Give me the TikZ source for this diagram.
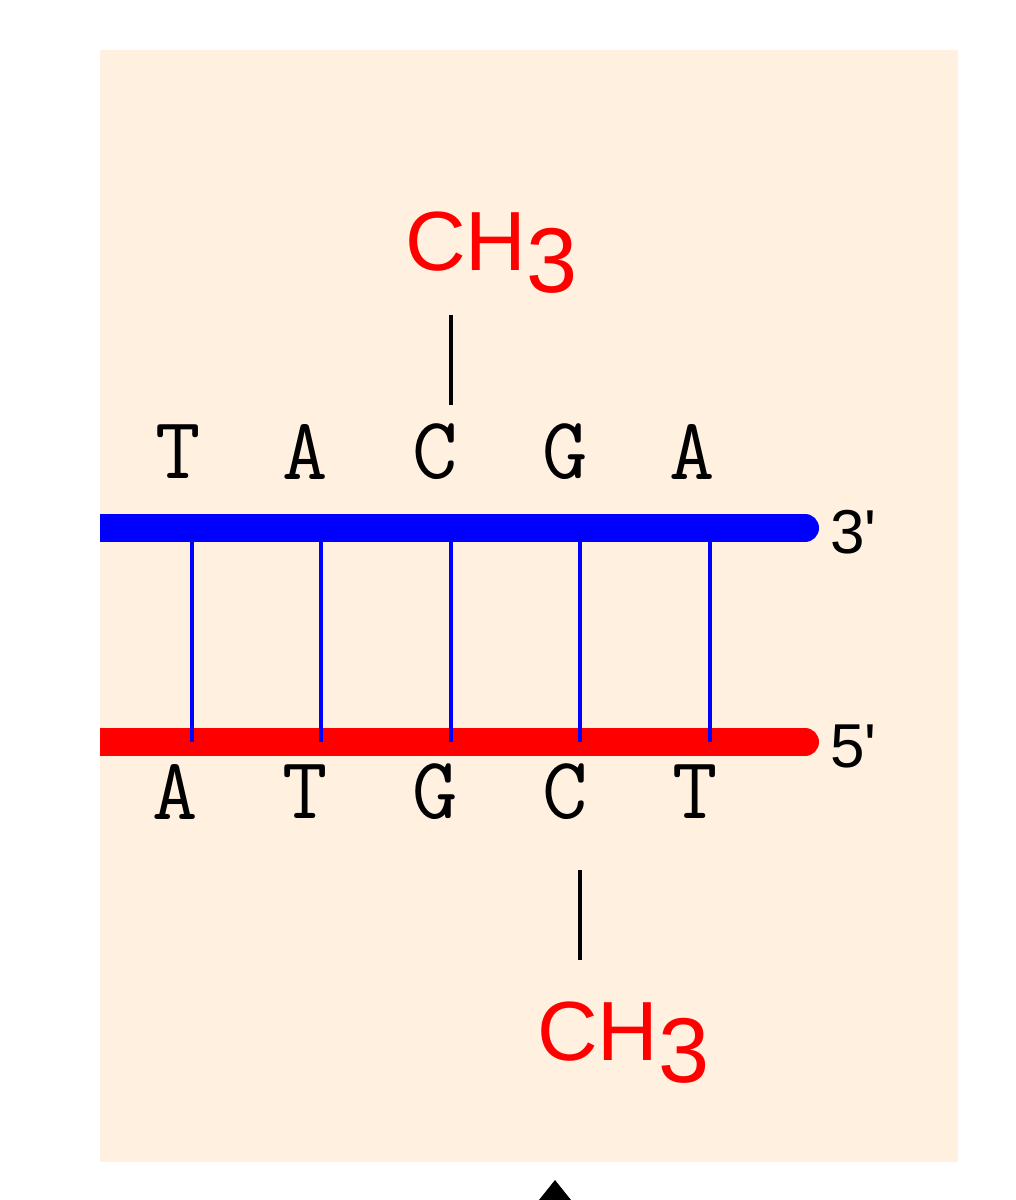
\documentclass[tikz,border=0pt]{standalone}
\usepackage{fontspec}
\setmainfont{Liberation Sans}
\newfontfamily\plainsans{Liberation Sans}
\newfontfamily\basefont{Latin Modern Mono}
\begin{document}
\begin{tikzpicture}[x=1pt,y=-1pt,
  base/.style={font=\basefont\fontsize{88}{88}\selectfont,inner sep=0},
  meth/.style={text=red,font=\fontsize{84}{84}\selectfont,inner sep=0},
  endl/.style={font=\plainsans\fontsize{62}{62}\selectfont,inner sep=0,anchor=west},
  strand/.style={line width=28pt,line cap=round},
  rung/.style={blue,line width=4.5pt}]
\useasboundingbox (0,0) rectangle (1016,1200);
\fill[white] (0,0) rectangle (1016,1200);
\fill[orange!12] (100,50) rectangle (958,1162);
\begin{scope}
\clip (100,0) rectangle (1016,1200);
\draw[strand,blue] (60,528) -- (805,528);
\draw[strand,red] (60,742) -- (805,742);
\end{scope}
\foreach \x in {192,321,451,580,710} \draw[rung] (\x,528) -- (\x,742);
\foreach \l/\x [count=\i] in {T/178,A/305,C/435,G/565,A/692} \node[base] (t\i) at (\x,452) {\textbf{\l}};
\foreach \l/\x [count=\i] in {A/175,T/305,G/435,C/565,T/695} \node[base] (b\i) at (\x,792) {\textbf{\l}};
\node[endl] (e3) at (830,532) {3'};
\node[endl] (e5) at (830,746) {5'};
\node[meth,anchor=base west] (m1) at (405,270) {CH\raisebox{-0.5ex}{\fontsize{92}{92}\selectfont 3}};
\node[meth,anchor=base west] (m2) at (537,1060) {CH\raisebox{-0.5ex}{\fontsize{92}{92}\selectfont 3}};
\draw[line width=4pt] (451,315) -- (451,405);
\draw[line width=4pt] (580,870) -- (580,960);
\fill (555,1180) -- (535,1205) -- (575,1205) -- cycle;
\end{tikzpicture}
\end{document}
